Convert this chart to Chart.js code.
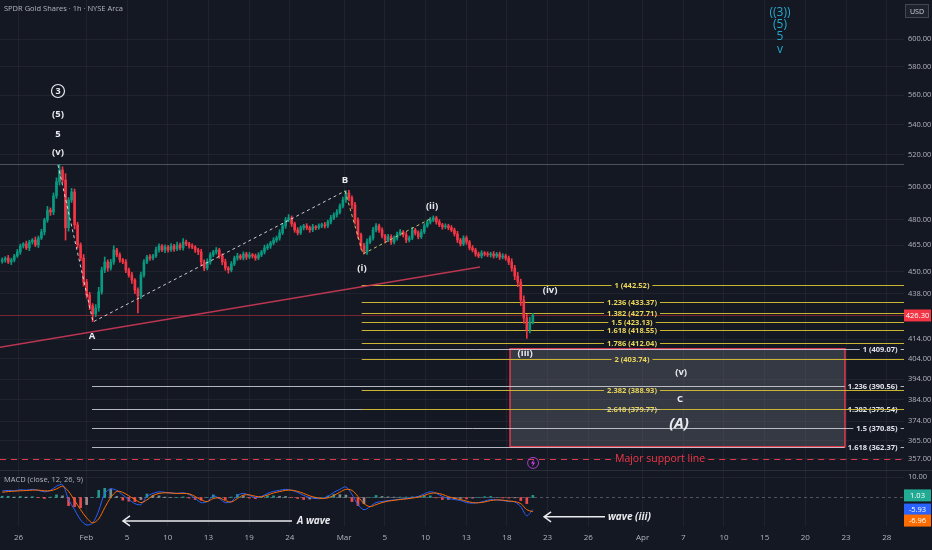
<!DOCTYPE html>
<html>
<head>
<meta charset="utf-8">
<script src="https://cdn.jsdelivr.net/npm/chart.js@4.4.1/dist/chart.umd.min.js"></script>
<style>
  html, body { margin: 0; padding: 0; background: #141823; }
  #wrap { position: relative; width: 932px; height: 550px; }
</style>
</head>
<body>
<div id="wrap"><canvas id="chart"></canvas></div>
<script>
// time axis is in trading days, 0 = Jan 26
const dayTicks = [0, 5, 8, 11, 14, 17, 20, 24, 27, 30, 33, 36, 39, 42, 46, 49, 52, 55, 58, 61, 64];
const dayTickLabels = ['26', 'Feb', '5', '10', '13', '19', '24', 'Mar', '5', '10', '13', '18', '23', '26', 'Apr', '7', '10', '15', '20', '23', '28'];
const priceTicks = [600, 580, 560, 540, 520, 500, 480, 465, 450, 438, 414, 404, 394, 384, 374, 365, 357];
const macdTicks = [10];

const barsPerDay = 4.5;
const firstBarDay = -1.2;
const firstOpen = 455.8;
const lastPrice = 426.30;

const closes = [
  456.6, 457.7, 455.5, 456.6, 458.9, 461.2, 464.6, 465.8, 463.5, 466.9,
  468.0, 465.2, 469.2, 472.8, 479.8, 485.7, 484.5, 494.3, 503.0, 510.4,
  504.1, 475.2, 491.8, 496.7, 476.9, 465.2, 457.7, 444.3, 437.3, 431.4,
  427.1, 430.3, 438.9, 451.0, 455.5, 452.1, 455.5, 462.3, 459.5, 456.6,
  455.5, 451.0, 448.2, 445.4, 440.0, 436.7, 448.2, 455.5, 458.3, 457.7,
  458.9, 462.3, 464.6, 462.3, 464.0, 462.3, 464.6, 462.9, 465.2, 463.5,
  466.9, 465.8, 464.6, 464.0, 462.3, 461.2, 455.5, 452.1, 455.5, 459.5,
  461.2, 462.3, 458.9, 455.5, 452.1, 451.0, 454.4, 457.7, 458.9, 457.7,
  460.0, 458.3, 459.5, 458.9, 457.7, 459.5, 461.2, 463.5, 464.6, 466.3,
  468.0, 469.2, 472.2, 476.3, 479.8, 481.0, 477.5, 473.9, 472.2, 475.2,
  476.3, 475.2, 473.9, 475.7, 475.2, 476.3, 476.9, 476.3, 478.6, 481.0,
  482.8, 484.5, 488.2, 491.8, 496.1, 493.1, 488.8, 479.8, 471.1, 464.6,
  461.2, 466.9, 469.2, 473.9, 476.3, 473.9, 470.5, 468.0, 469.9, 466.9,
  469.2, 471.6, 472.8, 471.1, 468.0, 469.2, 473.9, 472.2, 469.9, 472.8,
  476.3, 478.6, 479.8, 481.0, 478.6, 476.9, 475.7, 476.3, 475.2, 473.9,
  471.6, 468.0, 465.8, 469.2, 466.9, 463.5, 462.3, 460.0, 458.9, 460.6,
  460.0, 459.5, 460.0, 458.9, 460.0, 458.3, 458.9, 457.7, 455.5, 452.1,
  447.6, 444.3, 434.6, 425.0, 418.7, 422.9, 426.3
];
// wick length above / below the body, in dollars
const wickUp = [
  1.2, 0.8, 1.5, 1.0, 0.9, 1.4, 1.1, 0.7, 1.6, 1.0,
  0.9, 1.8, 1.2, 1.5, 1.0, 2.2, 1.3, 1.8, 2.5, 3.6,
  2.0, 4.0, 1.5, 2.2, 1.8, 1.6, 1.2, 2.0, 1.5, 1.4,
  1.2, 1.8, 2.5, 1.6, 2.8, 1.2, 1.5, 2.4, 1.0, 1.2,
  0.9, 1.3, 1.1, 1.5, 0.8, 1.2, 1.6, 1.4, 1.0, 1.3,
  0.9, 1.6, 1.2, 0.8, 1.3, 1.0, 1.4, 0.9, 1.7, 1.1,
  2.0, 1.1, 0.9, 1.2, 0.8, 1.0, 1.5, 1.2, 1.8, 1.3,
  0.9, 1.4, 1.0, 1.2, 1.6, 0.8, 1.3, 1.1, 1.5, 0.9,
  1.2, 1.0, 1.4, 0.8, 1.1, 1.3, 0.9, 1.6, 1.2, 1.0,
  1.4, 1.1, 1.8, 1.3, 1.5, 2.0, 1.2, 1.0, 1.4, 1.1,
  0.9, 1.3, 1.0, 1.5, 0.8, 1.2, 1.0, 1.4, 1.1, 1.6,
  1.3, 1.5, 1.2, 1.8, 1.4, 1.6, 1.3, 1.5, 1.2, 1.0,
  1.5, 1.8, 1.2, 1.6, 1.4, 1.0, 1.3, 0.9, 1.5, 1.1,
  1.2, 1.0, 1.4, 0.8, 1.3, 1.1, 1.6, 1.0, 1.2, 1.4,
  1.3, 1.1, 1.5, 1.2, 1.0, 1.4, 0.9, 1.2, 1.0, 1.3,
  1.1, 1.5, 1.0, 1.3, 1.2, 0.9, 1.4, 1.0, 1.1, 1.3,
  0.8, 1.2, 1.0, 1.4, 0.9, 1.1, 1.3, 1.0, 1.2, 1.8,
  1.5, 2.0, 1.6, 2.2, 1.8, 2.5, 1.2
];
const wickDown = [
  1.0, 1.3, 0.9, 1.5, 1.1, 0.8, 1.4, 1.2, 1.0, 1.6,
  1.2, 1.0, 1.5, 0.9, 1.8, 1.4, 2.0, 1.6, 1.5, 2.0,
  1.8, 7.2, 2.0, 1.5, 2.5, 1.8, 1.5, 2.2, 1.8, 2.0,
  4.1, 1.5, 1.8, 1.2, 1.5, 1.8, 1.2, 1.4, 1.1, 1.3,
  1.0, 1.5, 1.2, 1.8, 2.0, 9.0, 1.5, 1.2, 1.0, 1.4,
  1.1, 0.9, 1.3, 1.0, 1.5, 1.2, 0.8, 1.4, 1.0, 1.2,
  1.3, 1.0, 1.2, 0.9, 1.4, 1.6, 2.0, 1.5, 1.1, 1.3,
  1.0, 1.2, 1.4, 1.6, 1.3, 1.8, 1.1, 1.0, 1.3, 0.9,
  1.1, 1.4, 1.0, 1.2, 1.3, 0.9, 1.0, 1.2, 1.1, 1.4,
  1.0, 1.2, 1.3, 1.0, 1.5, 1.1, 1.6, 1.4, 1.2, 1.0,
  1.3, 1.1, 1.4, 1.0, 1.2, 0.9, 1.1, 1.3, 1.0, 1.2,
  1.0, 1.3, 1.1, 1.2, 1.5, 1.8, 2.2, 2.5, 2.0, 1.8,
  1.2, 1.4, 1.0, 1.2, 1.1, 1.5, 1.3, 1.6, 1.0, 1.4,
  1.1, 1.2, 1.0, 1.3, 1.5, 1.1, 1.0, 1.3, 1.2, 1.0,
  1.1, 0.9, 1.2, 1.0, 1.3, 1.1, 1.4, 1.0, 1.2, 1.1,
  1.3, 1.5, 1.2, 1.0, 1.4, 1.2, 1.1, 1.3, 1.0, 1.2,
  1.1, 1.0, 1.3, 1.2, 1.0, 1.4, 1.1, 1.2, 1.5, 1.8,
  2.0, 2.5, 3.0, 2.8, 4.3, 1.5, 1.0
];

// MACD (12, 26, 9), one sample every 2 bars
const macdEvery = 2;
const macdLine = [
  3.2, 3.5, 3.3, 3.8, 3.6, 4.0, 3.5, 2.8, 3.5, 5.5,
  6.3, -1.0, -6.0, -11.0, -13.5, -12.5, -6.5, 2.0, 4.2, 3.5,
  1.2, -1.0, -3.0, -3.5, 0.5, 2.0, 2.8, 2.5, 2.2, 2.0,
  2.3, 1.5, -0.5, -2.5, -2.0, 0.8, -0.5, -2.5, -2.0, 1.0,
  2.0, 1.0, 0.0, 0.5, 2.0, 3.0, 3.5, 4.0, 3.5, 2.5,
  1.0, 0.0, -0.5, -0.5, 0.5, 2.5, 4.0, 5.2, 1.5, -3.5,
  -6.0, -4.5, -2.5, -2.0, -1.5, -1.2, -0.8, -0.5, 0.0, 0.5,
  1.8, 2.8, 2.0, 0.5, -0.5, -1.0, -1.5, -2.5, -2.8, -2.5,
  -1.8, -1.0, -1.2, -1.5, -2.0, -2.2, -4.5, -9.0, -5.93
];
const signalLine = [
  2.6, 2.9, 3.1, 3.3, 3.4, 3.6, 3.6, 3.3, 3.3, 4.2,
  5.5, 3.0, -1.5, -6.0, -10.0, -12.5, -10.5, -5.0, 0.0, 3.0,
  2.5, 0.8, -1.0, -2.5, -1.2, 1.0, 2.0, 2.3, 2.2, 2.0,
  2.0, 1.8, 0.5, -1.2, -2.0, -0.5, -0.2, -1.5, -2.2, -0.5,
  1.2, 1.3, 0.6, 0.3, 1.2, 2.2, 2.9, 3.5, 3.6, 3.0,
  2.0, 0.8, 0.0, -0.5, -0.2, 1.0, 2.6, 4.0, 3.5, 0.5,
  -3.0, -4.5, -3.5, -2.5, -1.8, -1.4, -1.0, -0.7, -0.3, 0.2,
  1.0, 2.0, 2.2, 1.5, 0.4, -0.4, -1.0, -1.8, -2.5, -2.6,
  -2.2, -1.5, -1.2, -1.3, -1.7, -2.0, -3.0, -6.0, -6.96
];
const histogram = [
  0.6, 0.6, 0.2, 0.5, 0.2, 0.4, -0.1, -0.5, 0.2, 1.3,
  0.8, -4.0, -4.5, -5.0, -3.5, 0.0, 3.5, 4.5, 4.2, 0.5,
  -1.3, -1.8, -2.0, -1.0, 1.7, 1.0, 0.8, 0.2, 0.0, 0.0,
  0.3, -0.3, -1.0, -1.3, 0.0, 1.3, -0.3, -1.0, 0.2, 1.5,
  0.8, -0.3, -0.6, 0.2, 0.8, 0.8, 0.6, 0.5, -0.1, -0.5,
  -1.0, -0.8, -0.5, 0.0, 0.7, 1.5, 1.4, 1.2, -2.0, -4.0,
  -3.0, 0.0, 1.0, 0.5, 0.3, 0.2, 0.2, 0.2, 0.3, 0.3,
  0.8, 0.8, -0.2, -1.0, -0.9, -0.6, -0.5, -0.7, -0.3, 0.1,
  0.4, 0.5, 0.0, -0.2, -0.3, -0.2, -1.5, -3.0, 1.03
];

// fib extension levels
const fibYellowRatios = ['1', '1.236', '1.382', '1.5', '1.618', '1.786', '2', '2.382', '2.618'];
const fibYellowPrices = [442.52, 433.37, 427.71, 423.13, 418.55, 412.04, 403.74, 388.93, 379.77];
const fibWhiteRatios = ['1', '1.236', '1.382', '1.5', '1.618'];
const fibWhitePrices = [409.07, 390.56, 379.54, 370.85, 362.37];
const fibYellowFromDay = 25.3;
const fibWhiteFromDay = 5.42;
const fibYellowLabelDay = 45.22;
const fibWhiteLabelDay = 64.8;

const boxDays = [36.23, 60.92];
const boxPrices = [409.07, 362.37];
const supportPrice = 357;
const supportLabelDay = 47.29;
const peakLevel = 514.2;
const trendLine = [[-1.364, 409.8], [34.02, 452.7]];
const pathAB = [[2.91, 513.6], [5.49, 422.9], [24.07, 497.3]];
const pathI2 = [[24.07, 497.3], [25.39, 460.0], [30.48, 481.0]];

const waveLabels = [
  ['(v)', 2.91, 521.9], ['5', 2.91, 533.6], ['(5)', 2.91, 547.0],
  ['A', 5.42, 415.6], ['B', 24.07, 504.1], ['(i)', 25.32, 452.1], ['(ii)', 30.48, 488.2],
  ['(iii)', 37.34, 406.9], ['(iv)', 39.18, 440.0], ['(v)', 48.84, 397.5], ['C', 48.76, 384.4]
];
const circledLabel = ['3', 2.91, 562.8];
const bigLabel = ['(A)', 48.69, 372.7];
const cyanLabels = [['((3))', 56.13, 619.8], ['(5)', 56.13, 610.7], ['5', 56.13, 601.7], ['v', 56.13, 592.1]];
const boltAt = [37.93, 355.2];

const macdNotes = [
  // text, arrow from day, arrow to day, text day, macd value
  ['A wave', 7.70, 20.16, 20.53, -11.5],
  ['wave (iii)', 38.74, 43.23, 43.45, -9.5]
];

const FONT = "'Open Sans', 'Noto Sans', sans-serif";
const UP = '#089981';
const DOWN = '#f23645';
const AXIS_TEXT = '#b2b5be';
const GRID = 'rgba(42, 46, 57, 0.55)';

Chart.defaults.font.family = FONT;

const barDay = (i) => firstBarDay + i / barsPerDay;
const opens = closes.map((c, i) => (i === 0 ? firstOpen : closes[i - 1]));
const candleColors = closes.map((c, i) => (c >= opens[i] ? UP : DOWN));
const bodies = closes.map((c, i) => ({ x: barDay(i), y: [opens[i], c] }));
const wicks = closes.map((c, i) => ({
  x: barDay(i),
  y: [Math.min(opens[i], c) - wickDown[i], Math.max(opens[i], c) + wickUp[i]],
}));
const macdDay = (j) => barDay(j * macdEvery);
const histColors = histogram.map((h, j) => {
  const prev = j ? histogram[j - 1] : h;
  if (h >= 0) return h >= prev ? 'rgba(38, 166, 154, 0.9)' : 'rgba(178, 223, 219, 0.6)';
  return h < prev ? 'rgba(255, 82, 82, 0.9)' : 'rgba(255, 205, 210, 0.6)';
});
const toPoints = (pairs) => pairs.map(([d, p]) => ({ x: d, y: p }));

function hLine(ctx, x0, x1, yy, color, dash) {
  ctx.save();
  ctx.strokeStyle = color;
  ctx.lineWidth = 1;
  ctx.setLineDash(dash || []);
  ctx.beginPath();
  ctx.moveTo(x0, Math.round(yy) + 0.5);
  ctx.lineTo(x1, Math.round(yy) + 0.5);
  ctx.stroke();
  ctx.restore();
}

// horizontal level with a gap where its label sits
function labelledLine(ctx, x0, x1, yy, color, text, textColor, textX, align, font, dash) {
  ctx.save();
  ctx.font = font;
  const w = ctx.measureText(text).width;
  const tl = align === 'center' ? textX - w / 2 : textX - w;
  const tr = tl + w;
  const py = Math.round(yy) + 0.5;
  ctx.strokeStyle = color;
  ctx.lineWidth = 1;
  ctx.setLineDash(dash || []);
  ctx.beginPath();
  ctx.moveTo(x0, py);
  ctx.lineTo(tl - 3, py);
  ctx.moveTo(tr + 3, py);
  ctx.lineTo(x1, py);
  ctx.stroke();
  ctx.fillStyle = textColor;
  ctx.textAlign = 'left';
  ctx.textBaseline = 'middle';
  ctx.fillText(text, tl, py);
  ctx.restore();
}

function tag(ctx, left, yy, text, bg) {
  ctx.fillStyle = bg;
  ctx.fillRect(left, yy - 6, 27, 12);
  ctx.fillStyle = '#ffffff';
  ctx.font = `7.5px ${FONT}`;
  ctx.textAlign = 'center';
  ctx.textBaseline = 'middle';
  ctx.fillText(text, left + 13.5, yy + 0.5);
}

const overlays = {
  id: 'overlays',
  beforeDatasetsDraw(chart) {
    const { ctx, chartArea: ca, scales: { x, y, macd } } = chart;
    const X = (d) => x.getPixelForValue(d);
    const Y = (p) => y.getPixelForValue(p);

    ctx.save();
    ctx.beginPath();
    ctx.rect(ca.left, y.top, ca.right - ca.left, y.bottom - y.top);
    ctx.clip();

    hLine(ctx, ca.left, ca.right, Y(peakLevel), 'rgba(134, 137, 147, 0.5)');
    hLine(ctx, ca.left, ca.right, Y(lastPrice), 'rgba(242, 54, 69, 0.45)');

    // target box
    const bx0 = X(boxDays[0]), bx1 = X(boxDays[1]);
    const by0 = Y(boxPrices[0]), by1 = Y(boxPrices[1]);
    ctx.fillStyle = 'rgba(120, 123, 134, 0.33)';
    ctx.fillRect(bx0, by0, bx1 - bx0, by1 - by0);
    ctx.strokeStyle = '#e0394f';
    ctx.lineWidth = 1.5;
    ctx.strokeRect(bx0, by0, bx1 - bx0, by1 - by0);

    const fibFont = `bold 7.5px ${FONT}`;
    fibWhitePrices.forEach((p, i) => {
      labelledLine(ctx, X(fibWhiteFromDay), ca.right, Y(p), 'rgba(209, 212, 220, 0.85)',
        `${fibWhiteRatios[i]} (${p.toFixed(2)})`, '#e0e3eb', X(fibWhiteLabelDay), 'right', fibFont);
    });
    fibYellowPrices.forEach((p, i) => {
      labelledLine(ctx, X(fibYellowFromDay), ca.right, Y(p), '#c9b532',
        `${fibYellowRatios[i]} (${p.toFixed(2)})`, '#ead65a', X(fibYellowLabelDay), 'center', fibFont);
    });

    labelledLine(ctx, ca.left, ca.right, Y(supportPrice), '#e0394f', 'Major support line', '#f23645',
      X(supportLabelDay), 'center', `10.5px ${FONT}`, [6, 5]);
    ctx.restore();

    hLine(ctx, ca.left, ca.right, macd.getPixelForValue(0), 'rgba(120, 123, 134, 0.6)', [3, 3]);
  },

  afterDatasetsDraw(chart) {
    const { ctx, chartArea: ca, scales: { x, y, macd } } = chart;
    const X = (d) => x.getPixelForValue(d);
    const Y = (p) => y.getPixelForValue(p);
    const M = (v) => macd.getPixelForValue(v);
    ctx.save();

    // wave counts
    ctx.textAlign = 'center';
    ctx.textBaseline = 'middle';
    ctx.fillStyle = '#e9eaee';
    ctx.font = `bold 9.5px ${FONT}`;
    waveLabels.forEach(([t, d, p]) => ctx.fillText(t, X(d), Y(p)));

    const cx = X(circledLabel[1]), cy = Y(circledLabel[2]);
    ctx.strokeStyle = '#e9eaee';
    ctx.lineWidth = 1.2;
    ctx.beginPath();
    ctx.arc(cx, cy, 6.5, 0, Math.PI * 2);
    ctx.stroke();
    ctx.font = `bold 9px ${FONT}`;
    ctx.fillText(circledLabel[0], cx, cy + 0.5);

    ctx.font = `italic bold 15px ${FONT}`;
    ctx.fillText(bigLabel[0], X(bigLabel[1]), Y(bigLabel[2]));

    ctx.fillStyle = '#26a9cc';
    ctx.font = `12px ${FONT}`;
    cyanLabels.forEach(([t, d, p]) => ctx.fillText(t, X(d), Y(p)));

    // alert icon
    const ix = X(boltAt[0]), iy = Y(boltAt[1]);
    ctx.strokeStyle = '#a53fc8';
    ctx.lineWidth = 1;
    ctx.beginPath();
    ctx.arc(ix, iy, 5.5, 0, Math.PI * 2);
    ctx.stroke();
    ctx.fillStyle = '#e040fb';
    ctx.beginPath();
    ctx.moveTo(ix + 1, iy - 4);
    ctx.lineTo(ix - 2, iy + 0.5);
    ctx.lineTo(ix, iy + 0.5);
    ctx.lineTo(ix - 1, iy + 4);
    ctx.lineTo(ix + 2, iy - 0.5);
    ctx.lineTo(ix, iy - 0.5);
    ctx.closePath();
    ctx.fill();

    // pane separator
    hLine(ctx, 0, chart.width, y.bottom, '#2a2e39');

    // MACD notes with arrows
    ctx.strokeStyle = '#e9eaee';
    ctx.fillStyle = '#e9eaee';
    ctx.lineWidth = 1.5;
    macdNotes.forEach(([t, a0, a1, td, v]) => {
      const yy = M(v), ax = X(a0);
      ctx.beginPath();
      ctx.moveTo(X(a1), yy);
      ctx.lineTo(ax, yy);
      ctx.moveTo(ax + 7, yy - 5);
      ctx.lineTo(ax, yy);
      ctx.lineTo(ax + 7, yy + 5);
      ctx.stroke();
      ctx.font = `italic bold 10px ${FONT}`;
      ctx.textAlign = 'left';
      ctx.fillText(t, X(td), yy);
    });

    // titles
    ctx.fillStyle = AXIS_TEXT;
    ctx.font = `7.5px ${FONT}`;
    ctx.textAlign = 'left';
    ctx.fillText('SPDR Gold Shares · 1h · NYSE Arca', 4, 9);
    ctx.fillText('MACD (close, 12, 26, 9)', 4, y.bottom + 10);

    // axis tags
    const tx = ca.right;
    tag(ctx, tx, Y(lastPrice), lastPrice.toFixed(2), '#f23645');
    const last = histogram.length - 1;
    let prevBottom = -Infinity;
    [[histogram[last], '#22ab94'], [macdLine[last], '#2962ff'], [signalLine[last], '#ff6d00']].forEach(([v, c]) => {
      let yy = M(v);
      if (yy - 6 < prevBottom) yy = prevBottom + 6;
      tag(ctx, tx, yy, v.toFixed(2), c);
      prevBottom = yy + 5;
    });

    // currency box
    ctx.fillStyle = '#1e222d';
    ctx.fillRect(tx + 1, 4, 24, 14);
    ctx.strokeStyle = '#434651';
    ctx.lineWidth = 1;
    ctx.strokeRect(tx + 1.5, 4.5, 23, 13);
    ctx.fillStyle = '#d1d4dc';
    ctx.font = `7px ${FONT}`;
    ctx.textAlign = 'center';
    ctx.fillText('USD', tx + 13, 11.5);
    ctx.restore();
  },
};

new Chart(document.getElementById('chart'), {
  type: 'bar',
  data: {
    datasets: [
      {
        type: 'line', data: toPoints(pathAB), yAxisID: 'y', order: 0,
        borderColor: 'rgba(235, 236, 240, 0.85)', borderWidth: 1, borderDash: [3, 3], pointRadius: 0,
      },
      {
        type: 'line', data: toPoints(pathI2), yAxisID: 'y', order: 0,
        borderColor: 'rgba(220, 214, 110, 0.9)', borderWidth: 1, borderDash: [3, 3], pointRadius: 0,
      },
      {
        data: bodies, yAxisID: 'y', order: 1, grouped: false,
        backgroundColor: candleColors, barThickness: 2, minBarLength: 1,
      },
      {
        data: wicks, yAxisID: 'y', order: 2, grouped: false,
        backgroundColor: candleColors, barThickness: 1,
      },
      {
        type: 'line', data: toPoints(trendLine), yAxisID: 'y', order: 3,
        borderColor: 'rgba(205, 57, 88, 0.9)', borderWidth: 1.5, pointRadius: 0,
      },
      {
        data: histogram.map((v, j) => ({ x: macdDay(j), y: v })), yAxisID: 'macd', order: 6,
        grouped: false, backgroundColor: histColors, barThickness: 2,
      },
      {
        type: 'line', data: macdLine.map((v, j) => ({ x: macdDay(j), y: v })), yAxisID: 'macd', order: 5,
        borderColor: '#2962ff', borderWidth: 1, pointRadius: 0, tension: 0.3,
      },
      {
        type: 'line', data: signalLine.map((v, j) => ({ x: macdDay(j), y: v })), yAxisID: 'macd', order: 4,
        borderColor: '#ff6d00', borderWidth: 1, pointRadius: 0, tension: 0.3,
      },
    ],
  },
  options: {
    responsive: true,
    maintainAspectRatio: false,
    animation: false,
    events: [],
    layout: { padding: 0, autoPadding: false },
    plugins: { legend: { display: false }, tooltip: { enabled: false }, title: { display: false } },
    scales: {
      x: {
        type: 'linear', position: 'bottom', min: -1.364, max: 65.27, offset: false,
        grid: { color: GRID, drawTicks: false, offset: false },
        border: { display: false },
        ticks: {
          color: AXIS_TEXT, font: { size: 8 }, padding: 7, autoSkip: false, maxRotation: 0,
          callback: (v) => dayTickLabels[dayTicks.indexOf(v)] ?? '',
        },
        afterBuildTicks: (s) => { s.ticks = dayTicks.map((v) => ({ value: v })); },
        afterFit: (s) => { s.height = 24; s.paddingLeft = 0; s.paddingRight = 0; },
      },
      y: {
        type: 'logarithmic', position: 'right', stack: 'panes', stackWeight: 470,
        min: 352.1, max: 629.9,
        grid: { color: GRID, drawTicks: false },
        border: { display: false },
        ticks: { color: AXIS_TEXT, font: { size: 7.5 }, padding: 4, autoSkip: false, callback: (v) => v.toFixed(2) },
        afterBuildTicks: (s) => { s.ticks = priceTicks.map((v) => ({ value: v })); },
        afterFit: (s) => { s.width = 28; s.paddingTop = 0; s.paddingBottom = 0; },
      },
      macd: {
        type: 'linear', position: 'right', stack: 'panes', stackWeight: 56,
        min: -14, max: 13.5,
        grid: { color: GRID, drawTicks: false },
        border: { display: false },
        ticks: { color: AXIS_TEXT, font: { size: 7.5 }, padding: 4, autoSkip: false, callback: (v) => v.toFixed(2) },
        afterBuildTicks: (s) => { s.ticks = macdTicks.map((v) => ({ value: v })); },
        afterFit: (s) => { s.width = 28; s.paddingTop = 0; s.paddingBottom = 0; },
      },
    },
  },
  plugins: [overlays],
});
</script>
</body>
</html>
